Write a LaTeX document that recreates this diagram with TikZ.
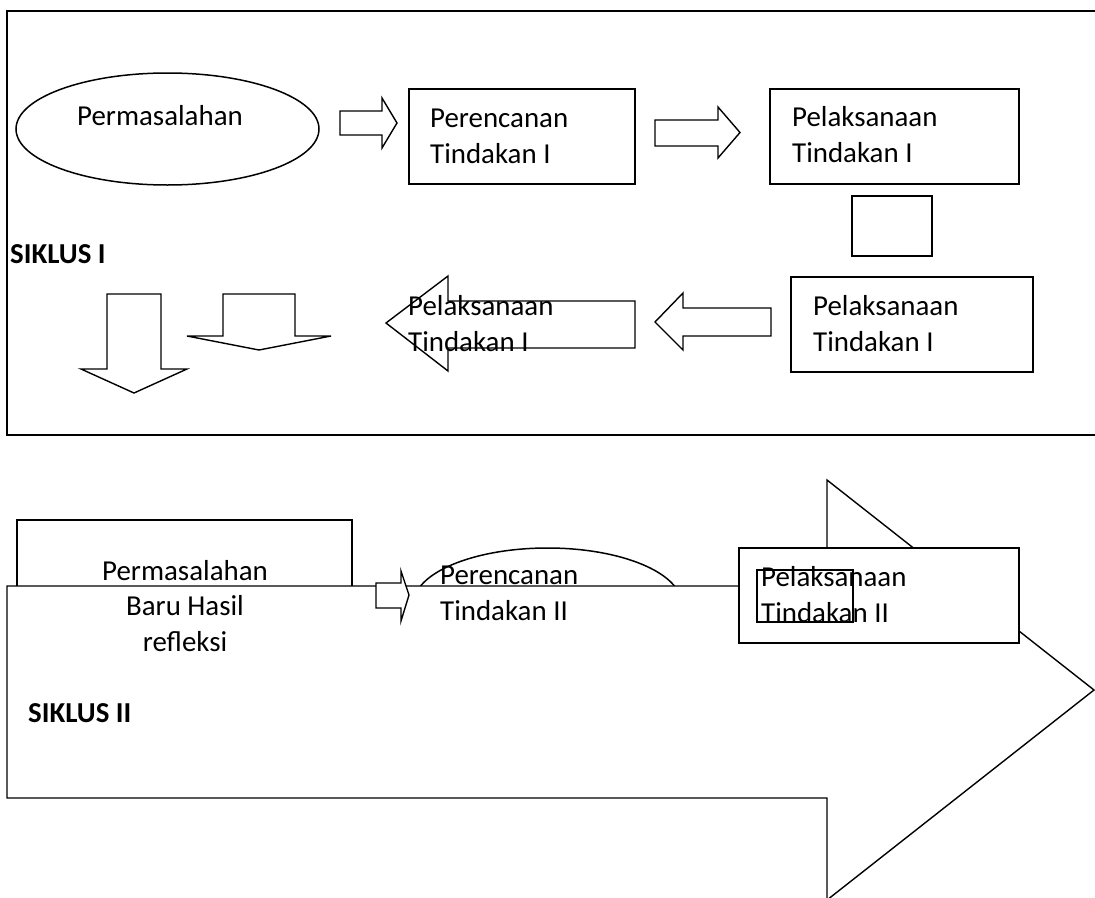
\documentclass[tikz,border=0pt]{standalone}
\usepackage{fontspec}
\setmainfont{Carlito}
\usetikzlibrary{shapes.geometric}
\begin{document}
\begin{tikzpicture}[x=1pt,y=-1pt,
  box/.style={draw, line width=1.9pt, fill=white, inner sep=0pt, rectangle},
  oval/.style={draw, line width=1.5pt, ellipse, inner sep=0pt},
  blk/.style={draw, line width=1.4pt, line join=miter},
  txt/.style={font=\fontsize{28.9}{35.5}\selectfont, inner sep=0pt, align=left, anchor=base west},
  ttl/.style={font=\fontsize{28.9}{35.5}\selectfont\bfseries, inner sep=0pt, anchor=base west}]
\useasboundingbox (0,0) rectangle (1095,897);
\clip (0,0) rectangle (1095,897);
% ---------- SIKLUS I frame ----------
\draw[line width=1.9pt] (1100,11) -- (7,11) -- (7,435) -- (1100,435);
\node[oval, minimum width=303pt, minimum height=112pt] (perm) at (167.5,129) {};
\node[box, minimum width=226pt, minimum height=95pt] (renc1) at (522,136.5) {};
\node[box, minimum width=249pt, minimum height=95pt] (pel1) at (894.5,136.5) {};
\node[box, minimum width=80pt, minimum height=60pt] (sq) at (892,226) {};
\node[box, minimum width=242pt, minimum height=95pt] (pel2) at (912,324.5) {};
% block arrows
\draw[blk] (340,111) -- (382,111) -- (382,98) -- (397,123) -- (382,148) -- (382,135) -- (340,135) -- cycle;
\draw[blk] (655,120) -- (718,120) -- (718,107) -- (740,132.5) -- (718,158) -- (718,146) -- (655,146) -- cycle;
\draw[blk] (771,308) -- (683,308) -- (683,293) -- (655,322) -- (683,350) -- (683,336) -- (771,336) -- cycle;
\draw[blk] (635,301) -- (448,301) -- (448,276) -- (386,323) -- (448,371) -- (448,348) -- (635,348) -- cycle;
\draw[blk] (107,294) -- (161,294) -- (161,369) -- (187,369) -- (134,393) -- (81,369) -- (107,369) -- cycle;
\draw[blk] (223,294) -- (295,294) -- (295,336) -- (331,336) -- (259,350) -- (187,336) -- (223,336) -- cycle;
% texts (multi-line nodes: base = last line)
\node[txt] (tperm) at (77,125) {Permasalahan};
\node[txt] (trenc1) at (430,163) {Perencanan\\Tindakan I};
\node[txt] (tpel1) at (792,162) {Pelaksanaan\\Tindakan I};
\node[txt] (tpel2) at (813,351) {Pelaksanaan\\Tindakan I};
\node[txt] (tpel3) at (408,351) {Pelaksanaan\\Tindakan I};
\node[ttl] (s1) at (10,263) {SIKLUS I};
% ---------- SIKLUS II ----------
\node[box, minimum width=335pt, minimum height=180pt] (baru) at (184.5,610) {};
\node[oval, minimum width=268pt, minimum height=112pt] (renc2) at (547.5,604) {};
\draw[blk, fill=white] (7,586) -- (827,586) -- (827,480) -- (1094,690) -- (827,900) -- (827,798) -- (7,798) -- cycle;
\draw[blk, fill=white] (376,583) -- (401,583) -- (401,571) -- (409,595) -- (401,621) -- (401,608) -- (376,608) -- cycle;
\node[box, minimum width=280pt, minimum height=95pt] (pel4) at (879,595.5) {};
\node[draw, line width=1.4pt, inner sep=0pt, minimum width=96pt, minimum height=52pt] (sr) at (805,596) {};
\node[txt, align=center, anchor=base] (tbaru) at (185,651) {Permasalahan\\Baru Hasil\\refleksi};
\node[txt] (trenc2) at (440,620) {Perencanan\\Tindakan II};
\node[txt] (tpel4) at (761,622) {Pelaksanaan\\Tindakan II};
\node[ttl] (s2) at (28,722) {SIKLUS II};
\end{tikzpicture}
\end{document}
